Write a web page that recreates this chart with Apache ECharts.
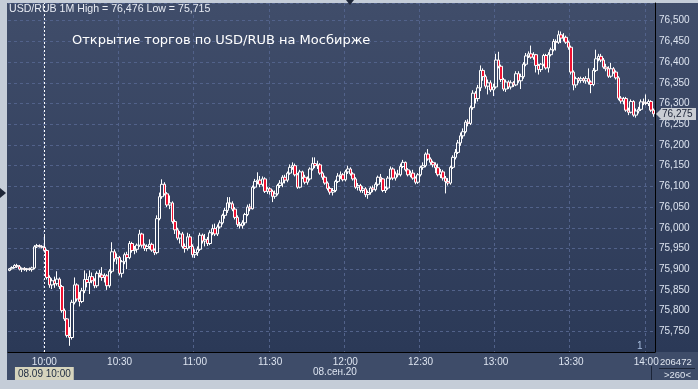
<!DOCTYPE html>
<html><head><meta charset="utf-8">
<script src="https://cdn.jsdelivr.net/npm/echarts/dist/echarts.min.js"></script>
<style>html,body{margin:0;padding:0;background:#c5cdd8;}#c{width:698px;height:389px;}</style>
</head><body><div id="c"></div>
<script>
const startTime = '09:46';
const headerText = 'USD/RUB 1M High = 76,476 Low = 75,715';
const titleText = 'Открытие торгов по USD/RUB на Мосбирже';
const dateText = '08.сен.20';
const markerTime = '10:00';
const markerLabel = '08.09 10:00';

const opens = [
75.897,75.901,75.904,75.909,75.906,75.900,75.902,75.899,75.901,75.899,
75.903,75.954,75.957,75.955,75.953,75.945,75.880,75.862,75.872,75.865,
75.876,75.858,75.800,75.780,75.740,75.735,75.820,75.862,75.828,75.822,
75.848,75.875,75.868,75.882,75.872,75.860,75.890,75.886,75.880,75.884,
75.860,75.895,75.942,75.925,75.928,75.890,75.918,75.935,75.928,75.962,
75.945,75.948,75.958,75.985,75.958,75.950,75.955,75.960,75.946,75.940,
76.022,76.075,76.105,76.082,76.055,76.060,76.015,75.995,75.975,75.985,
75.955,75.950,75.978,75.955,75.935,75.940,75.948,75.982,75.968,75.972,
75.962,75.988,75.998,75.985,76.002,76.012,76.030,76.042,76.060,76.058,
76.045,76.025,76.008,76.005,76.012,76.032,76.050,76.046,76.098,76.112,
76.115,76.105,76.118,76.088,76.094,76.088,76.076,76.082,76.102,76.108,
76.122,76.115,76.132,76.146,76.150,76.128,76.098,76.135,76.122,76.110,
76.118,76.142,76.155,76.150,76.152,76.132,76.122,76.108,76.095,76.086,
76.090,76.112,76.125,76.128,76.116,76.135,76.142,76.130,76.118,76.098,
76.102,76.090,76.094,76.080,76.085,76.096,76.092,76.105,76.122,76.118,
76.090,76.096,76.120,76.142,76.120,76.130,76.128,76.148,76.158,76.140,
76.128,76.132,76.120,76.110,76.128,76.146,76.150,76.178,76.166,76.158,
76.152,76.145,76.128,76.135,76.120,76.112,76.108,76.146,76.170,76.182,
76.205,76.222,76.232,76.255,76.252,76.290,76.325,76.312,76.338,76.380,
76.365,76.342,76.350,76.333,76.340,76.405,76.390,76.358,76.335,76.352,
76.340,76.350,76.345,76.372,76.355,76.365,76.395,76.415,76.420,76.412,
76.418,76.392,76.382,76.395,76.416,76.386,76.418,76.430,76.450,76.448,
76.466,76.458,76.460,76.448,76.436,76.376,76.345,76.360,76.356,76.360,
76.355,76.360,76.352,76.346,76.380,76.408,76.414,76.405,76.388,76.384,
76.366,76.384,76.376,76.362,76.313,76.306,76.312,76.284,76.279,76.305,
76.272,76.282,76.286,76.304,76.302,76.300,76.305,76.284];

const closes = [
75.901,75.904,75.909,75.906,75.900,75.902,75.899,75.901,75.899,75.903,
75.954,75.957,75.955,75.953,75.945,75.880,75.862,75.872,75.865,75.876,
75.858,75.800,75.780,75.740,75.735,75.820,75.862,75.828,75.822,75.848,
75.875,75.868,75.882,75.872,75.860,75.890,75.886,75.880,75.884,75.860,
75.895,75.942,75.925,75.928,75.890,75.918,75.935,75.928,75.962,75.945,
75.948,75.958,75.985,75.958,75.950,75.955,75.960,75.946,75.940,76.022,
76.075,76.105,76.082,76.055,76.060,76.015,75.995,75.975,75.985,75.955,
75.950,75.978,75.955,75.935,75.940,75.948,75.982,75.968,75.972,75.962,
75.988,75.998,75.985,76.002,76.012,76.030,76.042,76.060,76.058,76.045,
76.025,76.008,76.005,76.012,76.032,76.050,76.046,76.098,76.112,76.115,
76.105,76.118,76.088,76.094,76.088,76.076,76.082,76.102,76.108,76.122,
76.115,76.132,76.146,76.150,76.128,76.098,76.135,76.122,76.110,76.118,
76.142,76.155,76.150,76.152,76.132,76.122,76.108,76.095,76.086,76.090,
76.112,76.125,76.128,76.116,76.135,76.142,76.130,76.118,76.098,76.102,
76.090,76.094,76.080,76.085,76.096,76.092,76.105,76.122,76.118,76.090,
76.096,76.120,76.142,76.120,76.130,76.128,76.148,76.158,76.140,76.128,
76.132,76.120,76.110,76.128,76.146,76.150,76.178,76.166,76.158,76.152,
76.145,76.128,76.135,76.120,76.112,76.108,76.146,76.170,76.182,76.205,
76.222,76.232,76.255,76.252,76.290,76.325,76.312,76.338,76.380,76.365,
76.342,76.350,76.333,76.340,76.405,76.390,76.358,76.335,76.352,76.340,
76.350,76.345,76.372,76.355,76.365,76.395,76.415,76.420,76.412,76.418,
76.392,76.382,76.395,76.416,76.386,76.418,76.430,76.450,76.448,76.466,
76.458,76.460,76.448,76.436,76.376,76.345,76.360,76.356,76.360,76.355,
76.360,76.352,76.346,76.380,76.408,76.414,76.405,76.388,76.384,76.366,
76.384,76.376,76.362,76.313,76.306,76.312,76.284,76.279,76.305,76.272,
76.282,76.286,76.304,76.302,76.300,76.305,76.284,76.275];

const lows = [
75.895,75.899,75.902,75.903,75.897,75.893,75.896,75.894,75.896,75.894,
75.900,75.951,75.952,75.950,75.940,75.875,75.855,75.852,75.855,75.860,
75.852,75.795,75.775,75.735,75.715,75.730,75.815,75.822,75.810,75.818,
75.842,75.856,75.840,75.866,75.854,75.855,75.880,75.872,75.868,75.850,
75.855,75.890,75.918,75.912,75.885,75.880,75.912,75.900,75.924,75.940,
75.936,75.940,75.954,75.952,75.944,75.943,75.948,75.942,75.934,75.936,
76.018,76.070,76.078,76.050,76.045,76.010,75.985,75.970,75.962,75.950,
75.940,75.945,75.950,75.928,75.927,75.932,75.944,75.962,75.955,75.956,
75.958,75.982,75.980,75.980,75.998,76.008,76.022,76.036,76.048,76.040,
76.020,76.002,75.998,75.998,76.006,76.028,76.040,76.044,76.094,76.105,
76.098,76.100,76.084,76.082,76.080,76.062,76.070,76.078,76.096,76.098,
76.107,76.110,76.128,76.140,76.124,76.094,76.095,76.118,76.105,76.104,
76.114,76.138,76.144,76.142,76.128,76.116,76.104,76.090,76.080,76.078,
76.086,76.108,76.118,76.112,76.112,76.130,76.126,76.114,76.094,76.090,
76.085,76.084,76.074,76.070,76.080,76.086,76.088,76.100,76.110,76.086,
76.084,76.092,76.116,76.115,76.114,76.122,76.124,76.144,76.136,76.124,
76.122,76.116,76.105,76.106,76.124,76.140,76.146,76.162,76.152,76.146,
76.132,76.124,76.120,76.114,76.083,76.102,76.104,76.142,76.165,76.178,
76.198,76.215,76.228,76.245,76.248,76.285,76.300,76.305,76.330,76.355,
76.336,76.322,76.328,76.318,76.336,76.385,76.352,76.330,76.328,76.335,
76.334,76.340,76.342,76.350,76.335,76.360,76.390,76.410,76.408,76.406,
76.375,76.370,76.376,76.390,76.382,76.375,76.414,76.426,76.428,76.444,
76.446,76.450,76.444,76.430,76.370,76.332,76.338,76.350,76.350,76.350,
76.348,76.346,76.325,76.342,76.376,76.402,76.400,76.384,76.378,76.362,
76.362,76.372,76.358,76.308,76.300,76.298,76.280,76.272,76.276,76.268,
76.266,76.276,76.282,76.296,76.296,76.294,76.280,76.268];

const highs = [
75.903,75.907,75.912,75.913,75.910,75.904,75.905,75.903,75.904,75.906,
75.958,75.961,75.960,75.958,75.985,75.948,75.885,75.878,75.882,75.895,
75.880,75.862,75.805,75.782,75.760,75.826,75.880,75.866,75.845,75.855,
75.897,75.890,75.897,75.892,75.878,75.895,75.898,75.905,75.890,75.888,
75.900,75.965,75.948,75.938,75.932,75.922,75.940,75.942,75.968,75.966,
75.956,75.962,75.995,75.988,75.962,75.960,75.972,75.964,75.950,76.030,
76.085,76.117,76.110,76.086,76.078,76.064,76.020,76.000,75.992,75.990,
75.962,75.988,75.985,75.960,75.948,75.955,75.988,75.986,75.985,75.978,
75.994,76.008,76.010,76.008,76.018,76.034,76.048,76.074,76.074,76.064,
76.050,76.030,76.014,76.018,76.036,76.056,76.058,76.102,76.118,76.134,
76.125,76.124,76.122,76.098,76.098,76.092,76.090,76.106,76.115,76.127,
76.128,76.136,76.153,76.158,76.155,76.132,76.140,76.138,76.128,76.124,
76.146,76.170,76.170,76.162,76.156,76.136,76.126,76.112,76.100,76.096,
76.116,76.132,76.136,76.132,76.140,76.150,76.146,76.134,76.122,76.108,
76.106,76.100,76.098,76.090,76.100,76.102,76.110,76.126,76.130,76.120,
76.100,76.125,76.148,76.146,76.136,76.140,76.155,76.164,76.160,76.144,
76.138,76.140,76.124,76.132,76.150,76.158,76.182,76.190,76.170,76.162,
76.158,76.155,76.142,76.140,76.125,76.120,76.150,76.175,76.190,76.212,
76.230,76.240,76.260,76.262,76.295,76.332,76.330,76.345,76.392,76.385,
76.370,76.358,76.356,76.348,76.420,76.425,76.394,76.362,76.358,76.356,
76.356,76.354,76.378,76.378,76.372,76.400,76.422,76.426,76.440,76.424,
76.420,76.396,76.398,76.420,76.420,76.424,76.435,76.456,76.455,76.476,
76.474,76.470,76.464,76.452,76.440,76.380,76.365,76.364,76.365,76.364,
76.366,76.385,76.356,76.386,76.430,76.420,76.420,76.410,76.396,76.390,
76.398,76.388,76.380,76.366,76.318,76.316,76.316,76.290,76.310,76.308,
76.288,76.292,76.310,76.312,76.322,76.310,76.308,76.288];

// category labels: one per minute from startTime
const times = [];
(function(){
  const p = startTime.split(':');
  let m = (+p[0]) * 60 + (+p[1]);
  for (let i = 0; i < opens.length; i++, m++) {
    times.push(String(Math.floor(m / 60)).padStart(2, '0') + ':' + String(m % 60).padStart(2, '0'));
  }
})();

const candles = opens.map((o, i) => [o, closes[i], lows[i], highs[i]]);
const lastClose = closes[closes.length - 1];
const fmt = v => v.toFixed(3).replace('.', ',');
const halfHour = (idx, val) => val.slice(3) === '00' || val.slice(3) === '30';

const chart = echarts.init(document.getElementById('c'));
const option = {
  animation: false,
  backgroundColor: 'transparent',
  textStyle: { fontFamily: 'Liberation Sans' },
  title: [
    { text: headerText, left: 9, top: 4, padding: 0,
      textStyle: { color: '#e8ecf4', fontSize: 10.6, fontWeight: 'normal', fontFamily: 'Liberation Sans' } },
    { text: titleText, left: 72, top: 34, padding: 0,
      textStyle: { color: '#ffffff', fontSize: 13, fontWeight: 'normal', fontFamily: 'DejaVu Sans' } }
  ],
  graphic: [
    { id: 'panel', type: 'rect', z: -10, silent: true,
      shape: { x: 7, y: 3, width: 691, height: 349 },
      style: { fill: { type: 'linear', x: 0, y: 0, x2: 0, y2: 1,
        colorStops: [{ offset: 0, color: '#404d6a' }, { offset: 1, color: '#2b3957' }] } } },
    { id: 'xbar', type: 'rect', z: -10, silent: true,
      shape: { x: 7, y: 352, width: 691, height: 28 },
      style: { fill: '#3e4c69' } },
    { id: 'date', type: 'text', z: 50, left: 313, top: 367,
      style: { text: dateText, fill: '#dde4f0', font: '10px "Liberation Sans"' } },
    { id: 'vol', type: 'text', z: 50, left: 660, top: 357,
      style: { text: '206472', fill: '#e0e6f0', font: '9.5px "Liberation Sans"' } },
    { id: 'volline', type: 'line', z: 50,
      shape: { x1: 659, y1: 368.5, x2: 695, y2: 368.5 }, style: { stroke: '#1c2538', lineWidth: 1 } },
    { id: 'cnt', type: 'text', z: 50, left: 664, top: 370,
      style: { text: '>260<', fill: '#e0e6f0', font: '9.5px "Liberation Sans"' } },
    { id: 'thumb', type: 'line', z: 50,
      shape: { x1: 651.5, y1: 366, x2: 651.5, y2: 380 }, style: { stroke: '#1c2538', lineWidth: 1 } },
    { id: 'one', type: 'text', z: 50, left: 637, top: 341,
      style: { text: '1', fill: '#a8bedf', font: '10px "Liberation Sans"' } },
    { id: 'topTri', type: 'polygon', z: 50,
      shape: { points: [[346, 0], [354, 0], [350, 5]] }, style: { fill: '#1e2638' } },
    { id: 'leftTri', type: 'polygon', z: 50,
      shape: { points: [[0, 188], [6, 193], [0, 198]] }, style: { fill: '#1e2638' } }
  ],
  grid: { left: 8, right: 43, top: 3, bottom: 37, containLabel: false },
  xAxis: {
    type: 'category', data: times, boundaryGap: true,
    axisLine: { show: true, lineStyle: { color: '#000000', width: 1 } },
    axisTick: { show: false },
    axisLabel: { interval: halfHour, color: '#dde4f0', fontSize: 10, margin: 5, fontFamily: 'Liberation Sans' },
    splitLine: { show: true, interval: halfHour, lineStyle: { color: '#52628a', type: [3, 3], width: 1 } }
  },
  yAxis: {
    type: 'value', position: 'right', min: 75.70, max: 76.5428, interval: 0.05,
    axisLine: { show: true, lineStyle: { color: '#000000', width: 1 } },
    axisTick: { show: false },
    axisLabel: { color: '#dde4f0', fontSize: 10, margin: 4, fontFamily: 'Liberation Sans',
      formatter: fmt, showMinLabel: false, showMaxLabel: false },
    splitLine: { show: true, lineStyle: { color: '#52628a', type: [3, 3], width: 1 } }
  },
  series: [{
    type: 'candlestick',
    data: candles,
    barWidth: 3,
    itemStyle: {
      color: 'rgba(0,0,0,0)', color0: '#ee1030',
      borderColor: '#ffffff', borderColor0: '#ffffff', borderColorDoji: '#ffffff',
      borderWidth: 1
    },
    markLine: {
      silent: true, animation: false, symbol: ['none', 'none'],
      data: [
        { xAxis: markerTime,
          lineStyle: { color: '#ffffff', type: [2, 2], width: 1, opacity: 1 },
          label: { show: true, position: 'start', formatter: markerLabel, distance: 15,
            color: '#1d2a40', backgroundColor: '#d6d4bd', padding: [2, 3, 1, 3],
            fontSize: 10, fontFamily: 'Liberation Sans' } }
      ]
    }
  }]
};
chart.setOption(option);
// last-price tag placed through the value axis
const py = Math.round(chart.convertToPixel({ yAxisIndex: 0 }, lastClose));
chart.setOption({ graphic: [
  { id: 'priceArrow', type: 'polygon', z: 60,
    shape: { points: [[656, py], [661, py - 5], [661, py + 5]] }, style: { fill: '#c9cdd3' } },
  { id: 'priceBox', type: 'rect', z: 60,
    shape: { x: 661, y: py - 6, width: 35, height: 12 }, style: { fill: '#c9cdd3' } },
  { id: 'priceText', type: 'text', z: 61, x: 662, y: py - 5,
    style: { text: fmt(lastClose), fill: '#1a2236', font: '10px "Liberation Sans"' } }
] });
</script>
</body></html>
